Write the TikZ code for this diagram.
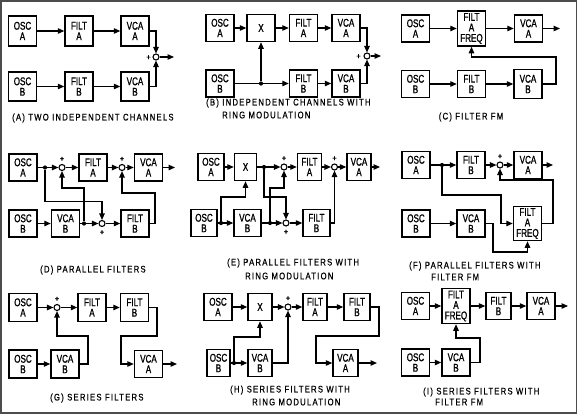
\documentclass[tikz,border=0pt]{standalone}
\usepackage{fontspec}
\usetikzlibrary{arrows.meta}
\newfontfamily\boxfont{Liberation Sans}[FakeStretch=0.72,FakeBold=1.0]
\newfontfamily\plfont{Liberation Sans}[FakeBold=1.5]
\newfontfamily\capfont{Liberation Sans}[FakeStretch=0.8,LetterSpace=13,FakeBold=0.7]
\tikzset{
 blk/.style={draw, line width=1.5pt, minimum width=28pt, minimum height=27pt, inner sep=0pt, align=center,
   font=\boxfont\fontsize{11.2}{10.5}\selectfont},
 sumc/.style={circle, draw, line width=1.1pt, fill=white, minimum size=6pt, inner sep=0pt},
 jdot/.style={circle, fill=black, minimum size=4.2pt, inner sep=0pt},
 arr/.style={line width=1.2pt, -{Triangle[length=6.5pt,width=5.5pt]}},
 pl/.style={font=\plfont\fontsize{7.5}{7.5}\selectfont, inner sep=0pt},
 captxt/.style={font=\capfont\fontsize{9.6}{10}\selectfont, inner sep=0pt, anchor=west},
 captxtc/.style={font=\capfont\fontsize{9.6}{10}\selectfont, inner sep=0pt}
}
\begin{document}
\begin{tikzpicture}[x=1pt,y=-1pt]
\useasboundingbox (0,0) rectangle (578,416);
\fill[white] (0,0) rectangle (578,416);
\draw[black!70, line width=1.5pt] (1,1) rectangle (576.5,413);

% ---------- Panel A ----------
\node[blk, minimum height=30pt] (Aoa) at (22.5,31) {OSC\\A};
\node[blk, minimum height=30pt] (Afa) at (79,31) {FILT\\A};
\node[blk, minimum height=30pt] (Ava) at (135,31) {VCA\\A};
\node[blk, minimum height=29pt] (Aob) at (22.5,86.5) {OSC\\B};
\node[blk, minimum height=29pt] (Afb) at (79,86.5) {FILT\\B};
\node[blk, minimum height=29pt] (Avb) at (135,86.5) {VCA\\B};
\node[sumc] (As) at (156,57) {};
\node[pl] (Ap) at (148.5,57.5) {+};
\coordinate (Ao) at (174,57);
\draw[arr] (Aoa) -- (Afa);
\draw[arr] (Afa) -- (Ava);
\draw[arr] (Aob) -- (Afb);
\draw[arr] (Afb) -- (Avb);
\draw[arr] (Ava) -| (As);
\draw[arr] (Avb) -| (As);
\draw[arr] (As) -- (Ao);
\node[captxt] (Acap) at (12,118) {(A) TWO INDEPENDENT CHANNELS};

% ---------- Panel B ----------
\node[blk] (Boa) at (220,28) {OSC\\A};
\node[blk] (Bx) at (261,28) {X};
\node[blk] (Bfa) at (303.5,28) {FILT\\A};
\node[blk] (Bva) at (346,28) {VCA\\A};
\node[blk] (Bob) at (220,83.5) {OSC\\B};
\node[blk] (Bfb) at (303.5,83.5) {FILT\\B};
\node[blk] (Bvb) at (346,83.5) {VCA\\B};
\node[jdot] (Bd) at (261,83.5) {};
\node[sumc] (Bs) at (367,56) {};
\node[pl] (Bp) at (358.5,56.5) {+};
\coordinate (Bo) at (381,56);
\draw[arr] (Boa) -- (Bx);
\draw[arr] (Bx) -- (Bfa);
\draw[arr] (Bfa) -- (Bva);
\draw[arr] (Bob) -- (Bfb);
\draw[arr] (Bfb) -- (Bvb);
\draw[arr] (Bd) -- (Bx);
\draw[arr] (Bva) -| (Bs);
\draw[arr] (Bvb) -| (Bs);
\draw[arr] (Bs) -- (Bo);
\node[captxt] (Bcap1) at (206,103) {(B) INDEPENDENT CHANNELS WITH};
\node[captxt] (Bcap2) at (222,115) {RING MODULATION};

% ---------- Panel C ----------
\node[blk] (Coa) at (415.5,28.5) {OSC\\A};
\node[blk, minimum height=35pt] (Cfa) at (471.5,28.5) {FILT\\A\\FREQ};
\node[blk] (Cva) at (528.5,28.5) {VCA\\A};
\coordinate (Co) at (560,28.5);
\node[blk] (Cob) at (415.5,84) {OSC\\B};
\node[blk] (Cfb) at (471.5,84) {FILT\\B};
\node[blk, minimum height=29pt] (Cvb) at (528,84) {VCA\\B};
\coordinate (Cc) at (556,57);
\draw[arr] (Coa) -- (Cfa);
\draw[arr] (Cfa) -- (Cva);
\draw[arr] (Cva) -- (Co);
\draw[arr] (Cob) -- (Cfb);
\draw[arr] (Cfb) -- (Cvb);
\draw[arr] (Cvb) -| (Cc) -| (Cfa);
\node[captxtc] (Ccap) at (471,117) {(C) FILTER FM};

% ---------- Panel D ----------
\node[blk] (Doa) at (23,167.5) {OSC\\A};
\node[jdot] (Dd1) at (45,167.5) {};
\node[sumc] (Ds1) at (62,167.5) {};
\node[pl] (Dp1) at (62,159) {+};
\node[blk] (Dfa) at (93,167.5) {FILT\\A};
\node[sumc] (Ds2) at (122,167.5) {};
\node[pl] (Dp2) at (122,159) {+};
\node[blk] (Dva) at (148.5,167.5) {VCA\\A};
\coordinate (Do) at (175,167.5);
\node[blk] (Dob) at (23,223.5) {OSC\\B};
\node[blk] (Dvb) at (65.5,223.5) {VCA\\B};
\node[jdot] (Dd2) at (84,223.5) {};
\node[sumc] (Ds3) at (102,223.5) {};
\node[pl] (Dp3) at (102,232.5) {+};
\node[blk] (Dfb) at (135,223.5) {FILT\\B};
\coordinate (Dk1) at (45,201.5);
\coordinate (Dk2) at (84,188);
\coordinate (Dk3) at (155,193);
\draw[arr] (Doa) -- (Ds1);
\draw[arr] (Ds1) -- (Dfa);
\draw[arr] (Dfa) -- (Ds2);
\draw[arr] (Ds2) -- (Dva);
\draw[arr] (Dva) -- (Do);
\draw[arr] (Dob) -- (Dvb);
\draw[arr] (Dvb) -- (Ds3);
\draw[arr] (Ds3) -- (Dfb);
\draw[arr] (Dd1) -- (Dk1) -| (Ds3);
\draw[arr] (Dd2) -- (Dk2) -| (Ds1);
\draw[arr] (Dfb) -| (Dk3) -| (Ds2);
\node[captxt] (Dcap) at (40,270) {(D) PARALLEL FILTERS};

% ---------- Panel E ----------
\node[blk, minimum width=26pt] (Eoa) at (211,167) {OSC\\A};
\node[blk, minimum width=22pt] (Ex) at (245.5,167) {X};
\node[jdot] (Ed1) at (264,167) {};
\node[sumc] (Es1) at (284,167) {};
\node[pl] (Ep1) at (284,158.5) {+};
\node[blk, minimum width=24pt] (Efa) at (309.5,167) {FILT\\A};
\node[sumc] (Es2) at (334.5,167) {};
\node[pl] (Ep2) at (334.5,158.5) {+};
\node[blk, minimum width=24pt] (Eva) at (359,167) {VCA\\A};
\coordinate (Eo) at (380,167);
\node[blk, minimum width=26pt] (Eob) at (204,223) {OSC\\B};
\node[jdot] (Ed2) at (221,223) {};
\node[blk, minimum width=27pt] (Evb) at (247.5,223) {VCA\\B};
\node[jdot] (Ed3) at (270,223) {};
\node[sumc] (Es3) at (286,223) {};
\node[pl] (Ep3) at (286,232) {+};
\node[blk, minimum width=27pt] (Efb) at (316.5,223) {FILT\\B};
\coordinate (Ek1) at (221,197);
\coordinate (Ek2) at (264,197);
\coordinate (Ek3) at (270,188);
\draw[arr] (Eoa) -- (Ex);
\draw[arr] (Ex) -- (Es1);
\draw[arr] (Es1) -- (Efa);
\draw[arr] (Efa) -- (Es2);
\draw[arr] (Es2) -- (Eva);
\draw[arr] (Eva) -- (Eo);
\draw[arr] (Eob) -- (Evb);
\draw[arr] (Evb) -- (Es3);
\draw[arr] (Es3) -- (Efb);
\draw[arr] (Ed2) -- (Ek1) -| (Ex);
\draw[arr] (Ed1) -- (Ek2) -| (Es3);
\draw[arr] (Ed3) -- (Ek3) -| (Es1);
\draw[arr] (Efb) -| (Es2);
\node[captxt] (Ecap1) at (227,263) {(E) PARALLEL FILTERS WITH};
\node[captxt] (Ecap2) at (245,276) {RING MODULATION};

% ---------- Panel F ----------
\node[blk] (Foa) at (416,165) {OSC\\A};
\node[jdot] (Fd) at (442,165) {};
\node[blk] (Ffb) at (471,165) {FILT\\B};
\node[sumc] (Fs) at (500,165) {};
\node[pl] (Fp) at (500,156.5) {+};
\node[blk] (Fva) at (528,165) {VCA\\A};
\coordinate (Fo) at (553,165);
\node[blk] (Fob) at (416,223.5) {OSC\\B};
\node[blk] (Fvb) at (471,223.5) {VCA\\B};
\node[blk, minimum height=34pt] (Fff) at (527.5,223.5) {FILT\\A\\FREQ};
\coordinate (Fk1) at (442,195);
\coordinate (Fk2) at (501,223.5);
\coordinate (Fk3) at (493,252);
\coordinate (Fk4) at (553,180);
\draw[arr] (Foa) -- (Ffb);
\draw[arr] (Ffb) -- (Fs);
\draw[arr] (Fs) -- (Fva);
\draw[arr] (Fva) -- (Fo);
\draw[arr] (Fob) -- (Fvb);
\draw[arr] (Fd) -- (Fk1) -| (Fk2) -- (Fff);
\draw[arr] (Fvb) -| (Fk3) -| (Fff);
\draw[arr] (Fff) -| (Fk4) -| (Fs);
\node[captxt] (Fcap1) at (409,266) {(F) PARALLEL FILTERS WITH};
\node[captxt] (Fcap2) at (431,277) {FILTER FM};

% ---------- Panel G ----------
\node[blk, minimum height=28pt] (Goa) at (23,307.5) {OSC\\A};
\node[sumc] (Gs) at (57,307.5) {};
\node[pl] (Gp) at (57,299) {+};
\node[blk, minimum height=28pt] (Gfa) at (92,307.5) {FILT\\A};
\node[blk, minimum height=28pt] (Gfb) at (134.5,307.5) {FILT\\B};
\node[blk] (Gva) at (148.5,364) {VCA\\A};
\coordinate (Go) at (177,364);
\node[blk, minimum height=28pt] (Gob) at (23,364) {OSC\\B};
\node[blk, minimum height=28pt] (Gvb) at (65,364) {VCA\\B};
\coordinate (Gk1) at (157,336);
\coordinate (Gk2) at (121,364);
\coordinate (Gk3) at (88,336);
\draw[arr] (Goa) -- (Gs);
\draw[arr] (Gs) -- (Gfa);
\draw[arr] (Gfa) -- (Gfb);
\draw[arr] (Gfb) -| (Gk1) -| (Gk2) -- (Gva);
\draw[arr] (Gva) -- (Go);
\draw[arr] (Gob) -- (Gvb);
\draw[arr] (Gvb) -| (Gk3) -| (Gs);
\node[captxt] (Gcap) at (50,398) {(G) SERIES FILTERS};

% ---------- Panel H ----------
\node[blk] (Hoa) at (218,307) {OSC\\A};
\node[blk, minimum width=24pt] (Hx) at (260,307) {X};
\node[sumc] (Hs) at (288,307) {};
\node[pl] (Hp) at (288,298.5) {+};
\node[blk, minimum width=24pt] (Hfa) at (315,307) {FILT\\A};
\node[blk, minimum width=26pt] (Hfb) at (357,307) {FILT\\B};
\node[blk, minimum width=25pt] (Hva) at (345.5,363) {VCA\\A};
\coordinate (Ho) at (377,363);
\node[blk, minimum width=23pt] (Hob) at (218.5,363) {OSC\\B};
\node[jdot] (Hd) at (234,363) {};
\node[blk, minimum width=24pt] (Hvb) at (260,363) {VCA\\B};
\coordinate (Hk1) at (379,336);
\coordinate (Hk2) at (316,363);
\coordinate (Hk3) at (234,337);
\draw[arr] (Hoa) -- (Hx);
\draw[arr] (Hx) -- (Hs);
\draw[arr] (Hs) -- (Hfa);
\draw[arr] (Hfa) -- (Hfb);
\draw[arr] (Hfb) -| (Hk1) -| (Hk2) -- (Hva);
\draw[arr] (Hva) -- (Ho);
\draw[arr] (Hob) -- (Hvb);
\draw[arr] (Hd) -- (Hk3) -| (Hx);
\draw[arr] (Hvb) -| (Hs);
\node[captxt] (Hcap1) at (230,390) {(H) SERIES FILTERS WITH};
\node[captxt] (Hcap2) at (252,402) {RING MODULATION};

% ---------- Panel I ----------
\node[blk] (Ioa) at (415.5,306) {OSC\\A};
\node[blk, minimum height=35pt] (Iff) at (456,306) {FILT\\A\\FREQ};
\node[blk, minimum width=25pt] (Ifb) at (498.5,306) {FILT\\B};
\node[blk] (Iva) at (541,306) {VCA\\A};
\coordinate (Io) at (568,306);
\node[blk] (Iob) at (415.5,362.5) {OSC\\B};
\node[blk] (Ivb) at (456,362.5) {VCA\\B};
\coordinate (Ik) at (480,338);
\draw[arr] (Ioa) -- (Iff);
\draw[arr] (Iff) -- (Ifb);
\draw[arr] (Ifb) -- (Iva);
\draw[arr] (Iva) -- (Io);
\draw[arr] (Iob) -- (Ivb);
\draw[arr] (Ivb) -| (Ik) -| (Iff);
\node[captxt] (Icap1) at (423,392) {(I) SERIES FILTERS WITH};
\node[captxt] (Icap2) at (435,402) {FILTER FM};
\end{tikzpicture}
\end{document}
